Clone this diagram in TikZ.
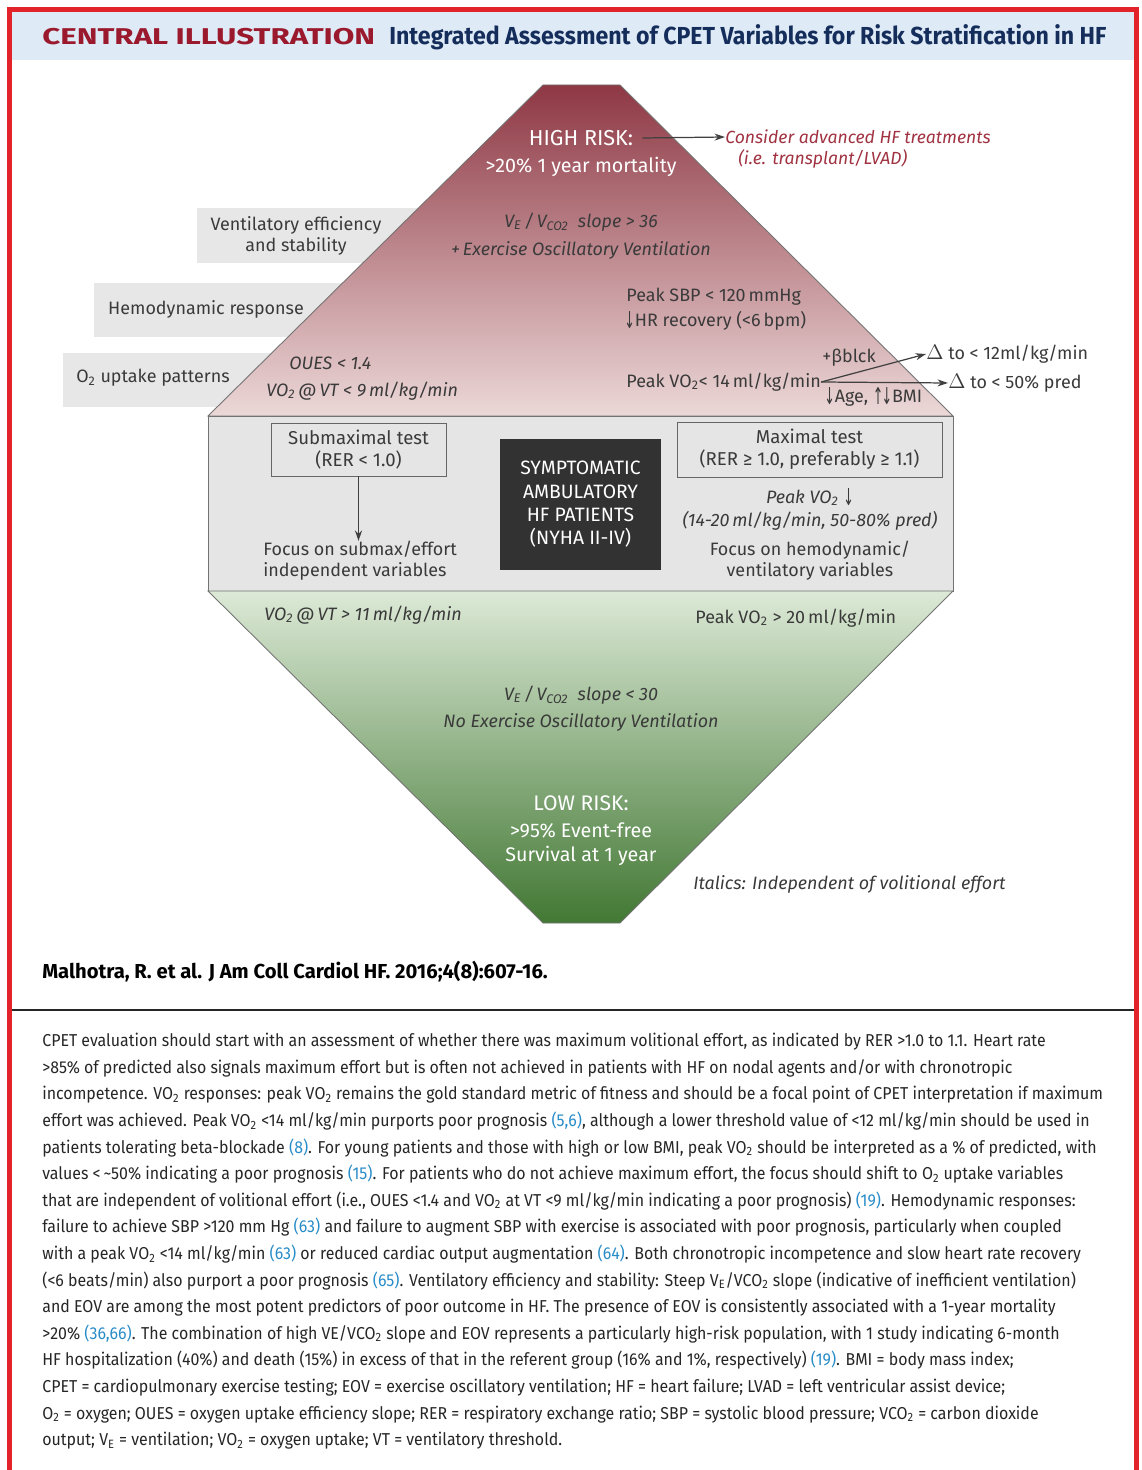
\documentclass[tikz,border=0pt]{standalone}
\usepackage{fontspec}
\usepackage{xcolor}
\setmainfont{Fira Sans}
\newfontfamily\condfont[FakeStretch=0.94]{Fira Sans}
\newfontfamily\captfont[FakeStretch=0.925]{Fira Sans}
\newfontfamily\widefont[FakeStretch=1.37]{Fira Sans}
\newfontfamily\symfont{DejaVu Sans}
\usetikzlibrary{arrows.meta}

\definecolor{framered}{RGB}{226,35,42}
\definecolor{headblue}{RGB}{222,234,246}
\definecolor{titlered}{RGB}{155,25,45}
\definecolor{titlenavy}{RGB}{20,45,90}
\definecolor{advred}{RGB}{160,50,65}
\definecolor{riskdark}{RGB}{142,56,68}
\definecolor{risklight}{RGB}{236,216,216}
\definecolor{bandgray}{RGB}{229,229,229}
\definecolor{tabgray}{RGB}{231,231,231}
\definecolor{safelight}{RGB}{220,233,214}
\definecolor{safedark}{RGB}{66,120,52}
\definecolor{txtgray}{RGB}{58,58,58}
\definecolor{patbox}{RGB}{50,50,50}
\definecolor{citeblue}{RGB}{40,140,200}

\newcommand{\sbs}[1]{\textsubscript{#1}}
\newcommand{\cit}[1]{\textcolor{citeblue}{#1}}
\newcommand{\arrdn}{\raisebox{-1pt}{\scalebox{0.7}[1.3]{\symfont\char"2193}}}
\newcommand{\arrup}{\raisebox{-1pt}{\scalebox{0.7}[1.3]{\symfont\char"2191}}}
\newcommand{\bigdelta}{{\fontsize{12.5}{12}\selectfont$\Delta$}}

\begin{document}
\begin{tikzpicture}[x=0.2mm, y=-0.2mm,
    every node/.style={inner sep=0pt, text=txtgray, font=\fontsize{10.2}{12}\selectfont},
    itx/.style={font=\fontsize{10.2}{12}\selectfont\itshape},
    wht/.style={text=white, font=\fontsize{11.2}{13.7}\selectfont},
    testbox/.style={draw=black!60, line width=0.5pt, align=center},
    edge/.style={draw=black!55, line width=0.5pt},
    conn/.style={-{Stealth[length=6pt, width=4pt]}, line width=0.7pt, draw=black!75}]
    \useasboundingbox (0,0) rectangle (1142,1470);
    \fill[headblue] (12,12) rectangle (1134,60);
    \draw[framered, line width=1mm] (9.5,1480) -- (9.5,9.5) -- (1136.5,9.5) -- (1136.5,1480);
    \node[anchor=base west, text=titlered, font=\widefont\bfseries\fontsize{13}{15}\selectfont] (ctitle) at (42,45) {CENTRAL ILLUSTRATION};
    \node[anchor=base west, text=titlenavy, font=\condfont\bfseries\fontsize{14}{16}\selectfont] (mtitle) at (389,45) {Integrated Assessment of CPET Variables for Risk Stratification in HF};

    \fill[tabgray] (197,208) rectangle (581,263);
    \fill[tabgray] (94,283) rectangle (581,337);
    \fill[tabgray] (63,353) rectangle (581,407);
    \node[align=center] (tabvent) at (296,236) {Ventilatory efficiency\\and stability};
    \node (tabhemo) at (206,309) {Hemodynamic response};
    \node (taboxy) at (153,378) {O\sbs{2} uptake patterns};

    \path[edge, top color=riskdark, bottom color=risklight] (543,85) -- (620,85) -- (953,416) -- (208,416) -- cycle;
    \path[edge, fill=bandgray] (208,416) rectangle (953,591);
    \path[edge, top color=safelight, bottom color=safedark] (208,591) -- (953,591) -- (620,923) -- (543,923) -- cycle;

    \node[wht, font=\fontsize{12.3}{14}\selectfont] (hirisk) at (581,138) {HIGH RISK:};
    \node[wht] (mort) at (581,167) {>20\% 1 year mortality};
    \node[itx, text=advred, anchor=west, font=\fontsize{10}{12}\selectfont\itshape] (advhf) at (725,137) {Consider advanced HF treatments};
    \node[itx, text=advred, anchor=west, font=\fontsize{10}{12}\selectfont\itshape] (advhfb) at (738,159) {(i.e. transplant/LVAD)};
    \draw[conn] ([xshift=5pt]hirisk.east) -- (advhf.west);
    \node[itx] (vshigh) at (581,222) {V\sbs{E}\,/\,V\sbs{CO2}\ \ slope > 36};
    \node[itx] (eovyes) at (581,250) {+\,Exercise Oscillatory Ventilation};
    \node[anchor=west] (sbp) at (626,297) {Peak SBP < 120\,mmHg};
    \node[anchor=west] (hrrec) at (624,321) {\arrdn HR recovery (<6\,bpm)};
    \node[itx, anchor=west] (oues) at (289,363) {OUES < 1.4};
    \node[itx, anchor=west] (vtlow) at (266,391) {VO\sbs{2}\,@\,VT < 9\,ml/kg/min};
    \node[anchor=west] (pkvo) at (626,382) {Peak VO\sbs{2}< 14\,ml/kg/min};
    \node[anchor=west] (dtwelve) at (926,354) {\bigdelta\ to < 12ml/kg/min};
    \node[anchor=west] (dfifty) at (948,383) {\bigdelta\ to < 50\% pred};
    \node[anchor=west] (bblck) at (822,358) {+βblck};
    \node[anchor=west] (agebmi) at (824,397) {\arrdn Age, \arrup\hspace{-1pt}\arrdn BMI};
    \draw[conn] (pkvo.east) -- (dtwelve.west);
    \draw[conn] (pkvo.east) -- (dfifty.west);

    \node[testbox, minimum width=35mm, minimum height=10.6mm, font=\fontsize{10.6}{12.5}\selectfont] (subbox) at (358.5,449.5) {Submaximal test\\(RER < 1.0)};
    \node[align=left, anchor=west] (focusl) at (263,561) {Focus on submax/effort\\independent variables};
    \draw[conn] (subbox.south) -- (subbox.south |- focusl.north);
    \node[fill=patbox, text=white, align=center, minimum width=32.2mm, minimum height=26.2mm, font=\fontsize{11}{13.3}\selectfont] (hfpat) at (580.5,504.5) {SYMPTOMATIC\\AMBULATORY\\HF PATIENTS\\(NYHA II-IV)};
    \node[testbox, minimum width=53mm, minimum height=11mm, font=\fontsize{10.6}{12.5}\selectfont] (maxbox) at (809.5,449.5) {Maximal test\\(RER ≥ 1.0, preferably ≥ 1.1)};
    \node (pkdown) at (810,497) {\textit{Peak VO\sbs{2}} \arrdn};
    \node[itx] (pkrange) at (810,521) {(14-20\,ml/kg/min, 50-80\% pred)};
    \node[align=center] (focusr) at (810,561) {Focus on hemodynamic/\\ventilatory variables};

    \node[itx, anchor=west] (vthigh) at (264,615) {VO\sbs{2}\,@\,VT > 11\,ml/kg/min};
    \node[anchor=west] (pktwenty) at (695,618) {Peak VO\sbs{2} > 20\,ml/kg/min};
    \node[itx] (vslow) at (581,695) {V\sbs{E}\,/\,V\sbs{CO2}\ \ slope < 30};
    \node[itx] (eovno) at (581,722) {No Exercise Oscillatory Ventilation};
    \node[wht, font=\fontsize{12}{14}\selectfont] (lorisk) at (581,803) {LOW RISK:};
    \node[wht, align=center] (efree) at (581,844) {>95\% Event-free\\Survival at 1 year};
    \node[itx, anchor=west] (italnote) at (693,884) {Italics: Independent of volitional effort};

    \node[anchor=base west, text=black, font=\bfseries\fontsize{11.5}{14}\selectfont] (refline) at (42,978) {Malhotra, R. et al. J Am Coll Cardiol HF. 2016;4(8):607-16.};
    \draw[black!85, line width=0.4mm] (12,1010) -- (1134,1010);
    \node[anchor=north west, align=left, text=black!85, font=\captfont\fontsize{9.8}{15.13}\selectfont] (capt) at (42,1033) {%
CPET evaluation should start with an assessment of whether there was maximum volitional effort, as indicated by RER >1.0 to 1.1. Heart rate\\
>85\% of predicted also signals maximum effort but is often not achieved in patients with HF on nodal agents and/or with chronotropic\\
incompetence. VO\sbs{2} responses: peak VO\sbs{2} remains the gold standard metric of fitness and should be a focal point of CPET interpretation if maximum\\
effort was achieved. Peak VO\sbs{2} <14 ml/kg/min purports poor prognosis \cit{(5,6)}, although a lower threshold value of <12 ml/kg/min should be used in\\
patients tolerating beta-blockade \cit{(8)}. For young patients and those with high or low BMI, peak VO\sbs{2} should be interpreted as a \% of predicted, with\\
values <\,\textasciitilde50\% indicating a poor prognosis \cit{(15)}. For patients who do not achieve maximum effort, the focus should shift to O\sbs{2} uptake variables\\
that are independent of volitional effort (i.e., OUES <1.4 and VO\sbs{2} at VT <9 ml/kg/min indicating a poor prognosis) \cit{(19)}. Hemodynamic responses:\\
failure to achieve SBP >120 mm Hg \cit{(63)} and failure to augment SBP with exercise is associated with poor prognosis, particularly when coupled\\
with a peak VO\sbs{2} <14 ml/kg/min \cit{(63)} or reduced cardiac output augmentation \cit{(64)}. Both chronotropic incompetence and slow heart rate recovery\\
(<6 beats/min) also purport a poor prognosis \cit{(65)}. Ventilatory efficiency and stability: Steep V\sbs{E}/VCO\sbs{2} slope (indicative of inefficient ventilation)\\
and EOV are among the most potent predictors of poor outcome in HF. The presence of EOV is consistently associated with a 1-year mortality\\
>20\% \cit{(36,66)}. The combination of high VE/VCO\sbs{2} slope and EOV represents a particularly high-risk population, with 1 study indicating 6-month\\
HF hospitalization (40\%) and death (15\%) in excess of that in the referent group (16\% and 1\%, respectively) \cit{(19)}. BMI = body mass index;\\
CPET = cardiopulmonary exercise testing; EOV = exercise oscillatory ventilation; HF = heart failure; LVAD = left ventricular assist device;\\
O\sbs{2} = oxygen; OUES = oxygen uptake efficiency slope; RER = respiratory exchange ratio; SBP = systolic blood pressure; VCO\sbs{2} = carbon dioxide\\
output; V\sbs{E} = ventilation; VO\sbs{2} = oxygen uptake; VT = ventilatory threshold.};
\end{tikzpicture}
\end{document}
